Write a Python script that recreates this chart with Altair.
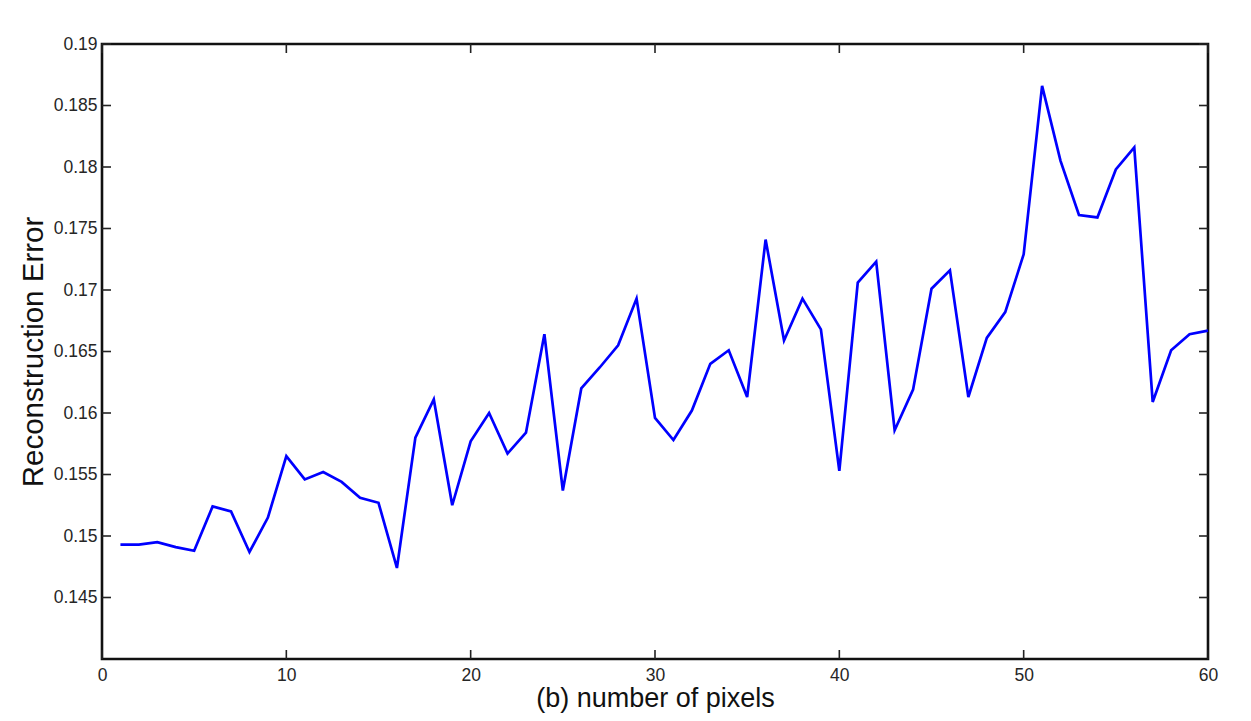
import altair as alt
import pandas as pd

pixels = list(range(1, 61))
errors = [
    0.1493, 0.1493, 0.1495, 0.1491, 0.1488, 0.1524, 0.1520, 0.1487, 0.1515, 0.1565,
    0.1546, 0.1552, 0.1544, 0.1531, 0.1527, 0.1474, 0.1580, 0.1611, 0.1525, 0.1577,
    0.1600, 0.1567, 0.1584, 0.1664, 0.1537, 0.1620, 0.1637, 0.1655, 0.1693, 0.1596,
    0.1578, 0.1602, 0.1640, 0.1651, 0.1613, 0.1741, 0.1659, 0.1693, 0.1668, 0.1553,
    0.1706, 0.1723, 0.1586, 0.1619, 0.1701, 0.1716, 0.1613, 0.1661, 0.1682, 0.1729,
    0.1866, 0.1805, 0.1761, 0.1759, 0.1798, 0.1816, 0.1609, 0.1651, 0.1664, 0.1667,
]
x_ticks = [0, 10, 20, 30, 40, 50, 60]
y_ticks = [0.145, 0.15, 0.155, 0.16, 0.165, 0.17, 0.175, 0.18, 0.185, 0.19]

W, H = 1106, 615
FONT = "Liberation Sans"

df = pd.DataFrame({"pixels": pixels, "error": errors})
xt = pd.DataFrame({"pixels": x_ticks})
yt = pd.DataFrame({"error": y_ticks})

x_scale = alt.Scale(domain=[0, 60], nice=False, zero=False)
y_scale = alt.Scale(domain=[0.14, 0.19], nice=False, zero=False)

x_axis = alt.Axis(values=x_ticks, title="(b) number of pixels", ticks=False, tickSize=0,
                  domain=False, grid=False, labelFlush=False, labelFont=FONT,
                  labelFontSize=17.5, labelColor="#262626", labelPadding=7,
                  titleFont=FONT, titleFontSize=27, titleFontWeight="normal",
                  titleColor="#111111", titlePadding=2)
y_axis = alt.Axis(values=y_ticks, format=".3~f", title="Reconstruction Error", ticks=False,
                  tickSize=0, domain=False, grid=False, labelFlush=False, labelFont=FONT,
                  labelFontSize=17.5, labelColor="#262626", labelPadding=5,
                  titleFont=FONT, titleFontSize=29.5, titleFontWeight="normal",
                  titleColor="#111111", titlePadding=5)

line = alt.Chart(df).mark_line(color="#0000ff", strokeWidth=2.7).encode(
    x=alt.X("pixels:Q", scale=x_scale, axis=x_axis),
    y=alt.Y("error:Q", scale=y_scale, axis=y_axis),
)

tick_style = dict(color="#222222", strokeWidth=1.6)
bottom_ticks = alt.Chart(xt).mark_rule(**tick_style).encode(
    x=alt.X("pixels:Q", scale=x_scale, axis=x_axis), y=alt.value(H), y2=alt.value(H - 9))
top_ticks = alt.Chart(xt).mark_rule(**tick_style).encode(
    x=alt.X("pixels:Q", scale=x_scale, axis=x_axis), y=alt.value(0), y2=alt.value(9))
left_ticks = alt.Chart(yt).mark_rule(**tick_style).encode(
    y=alt.Y("error:Q", scale=y_scale, axis=y_axis), x=alt.value(0), x2=alt.value(9))
right_ticks = alt.Chart(yt).mark_rule(**tick_style).encode(
    y=alt.Y("error:Q", scale=y_scale, axis=y_axis), x=alt.value(W - 9), x2=alt.value(W))

chart = alt.layer(bottom_ticks, top_ticks, left_ticks, right_ticks, line).properties(
    width=W, height=H,
    autosize=alt.AutoSizeParams(type="none"),
    padding={"left": 94, "top": 36, "right": 20, "bottom": 55},
    background="white",
).configure_view(stroke="#111111", strokeWidth=2.6)

chart.save("out.html", embed_options={"renderer": "svg", "actions": False})
